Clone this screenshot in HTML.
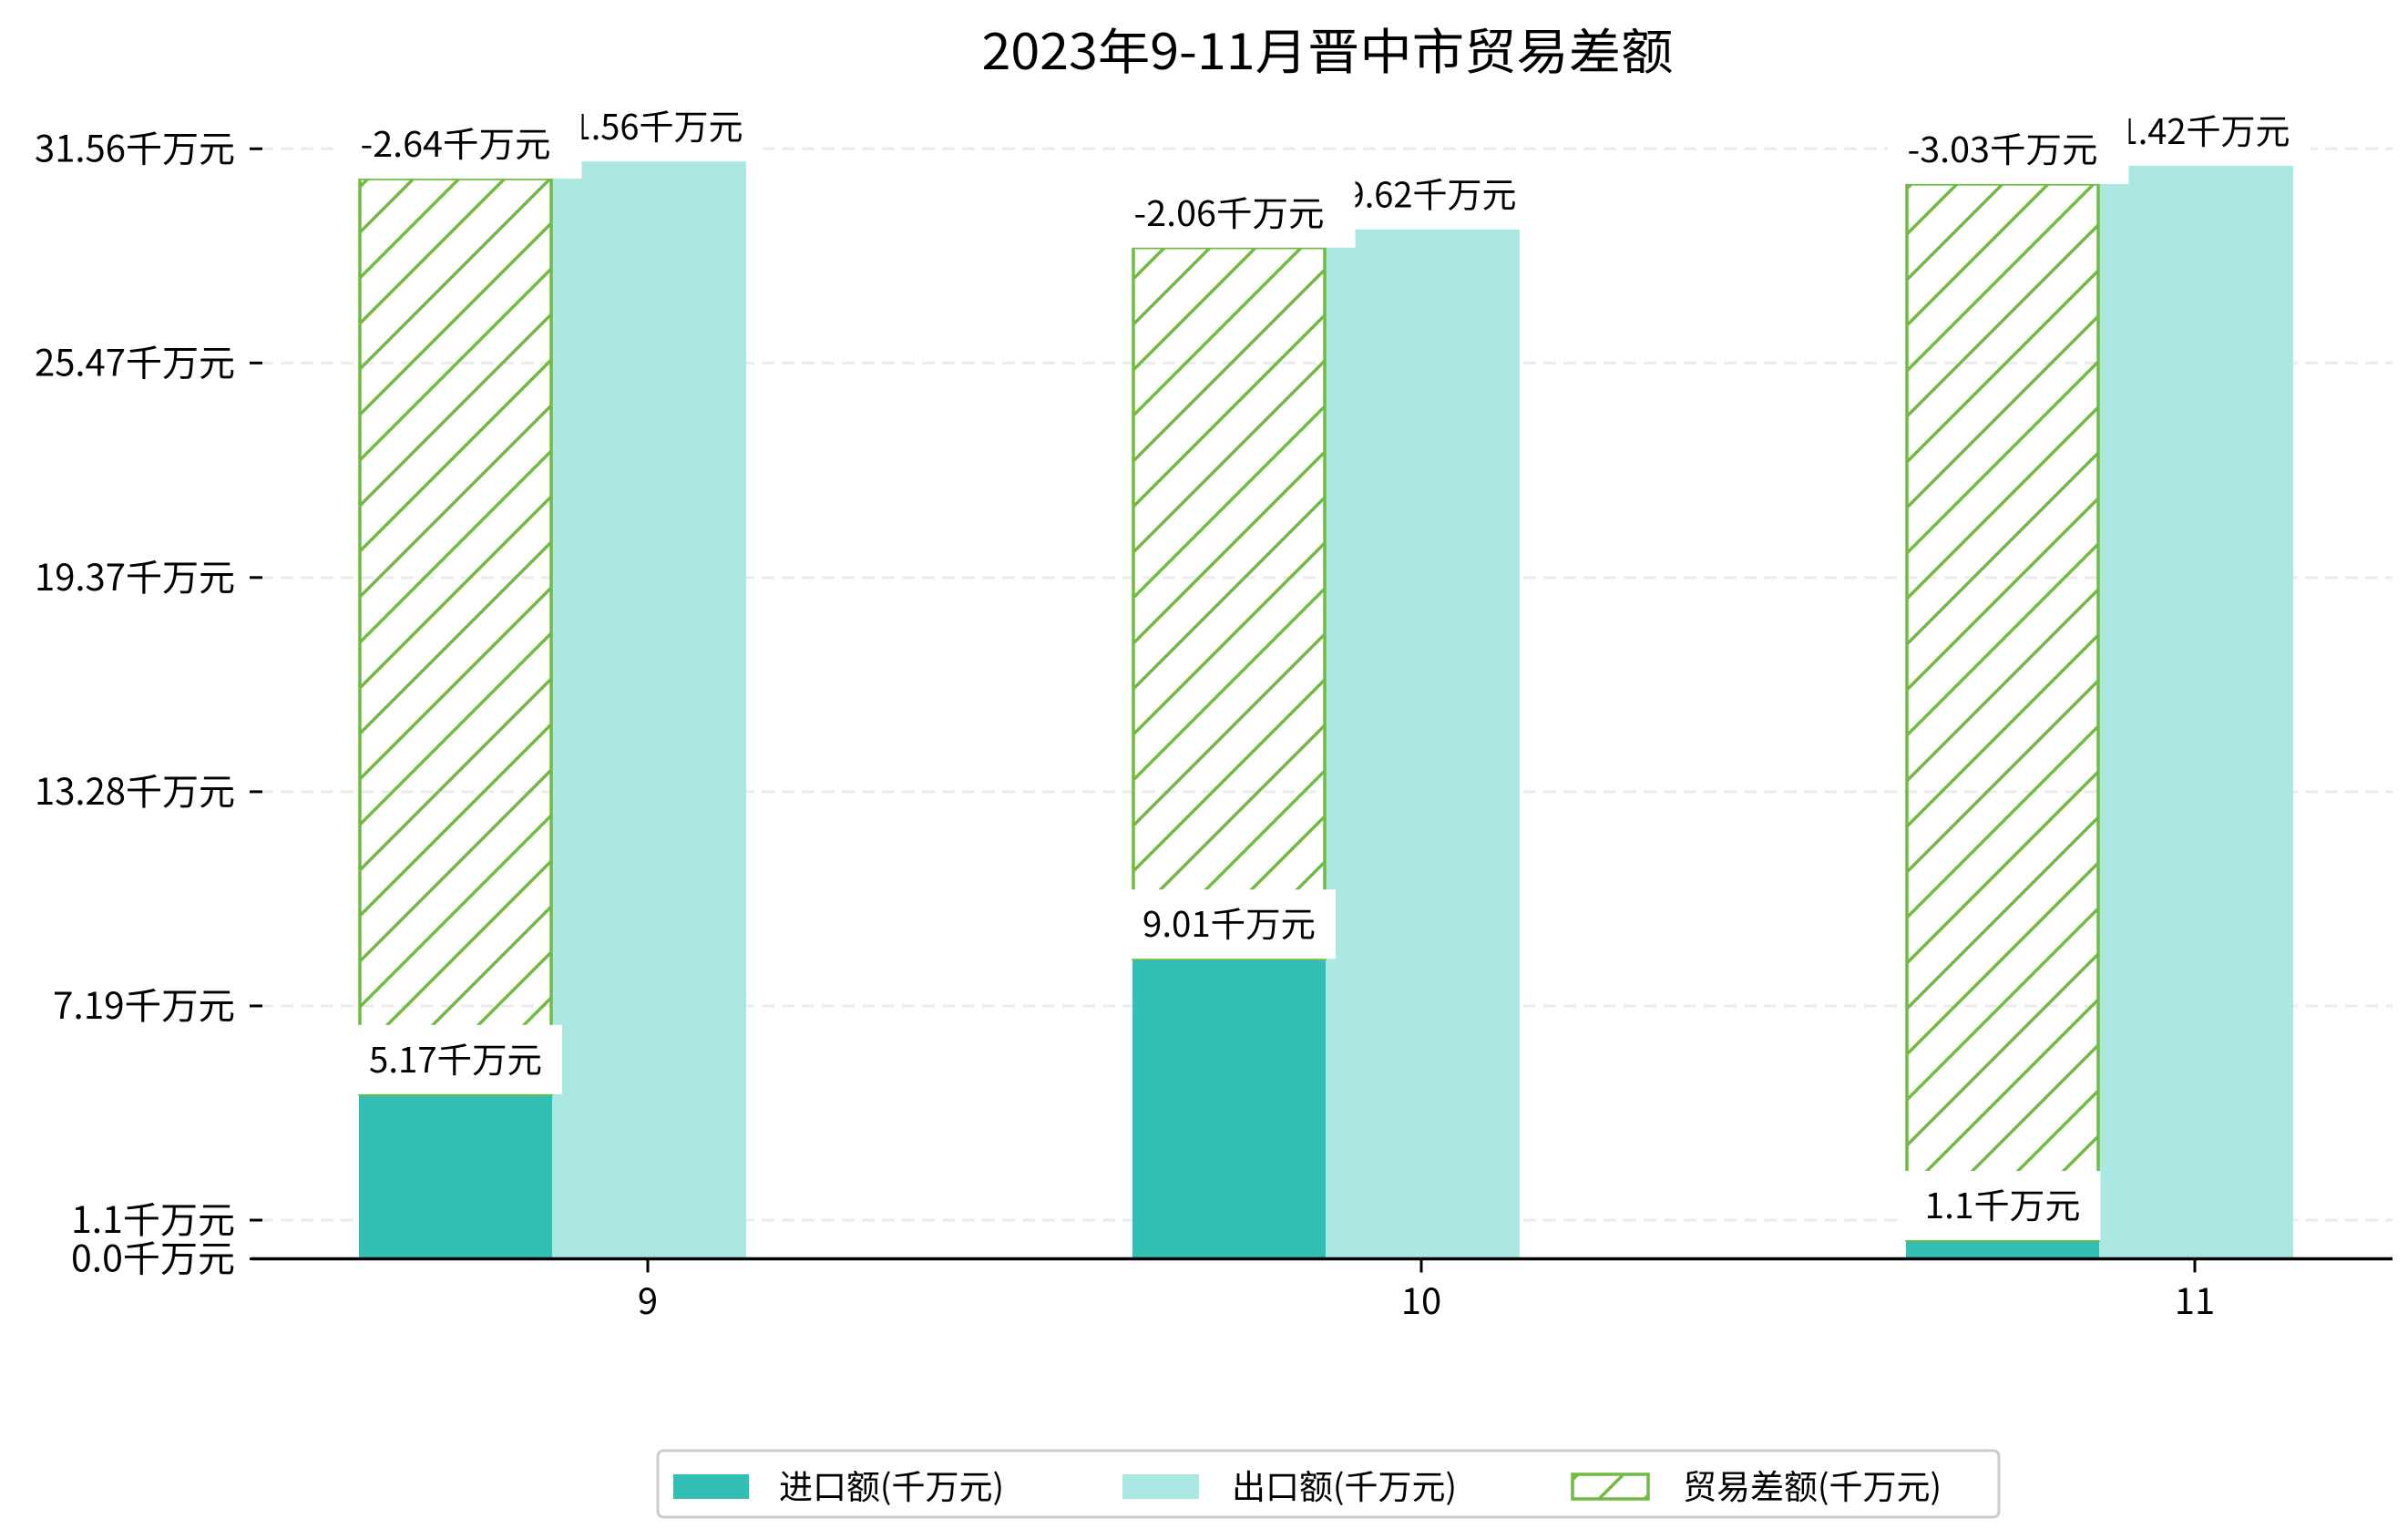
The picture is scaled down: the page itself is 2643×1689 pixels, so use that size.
<!DOCTYPE html>
<html><head><meta charset="utf-8"><style>
html,body{margin:0;padding:0;background:#fff;}
svg{display:block;font-family:"Liberation Sans","Noto Sans CJK SC",sans-serif;}
</style></head><body>
<svg id="chart" width="2643" height="1689" viewBox="0 0 2643 1689" xmlns="http://www.w3.org/2000/svg">
<defs>
<pattern id="hatch" patternUnits="userSpaceOnUse" width="50" height="50">
<path d="M0,50 L50,0 M-10,10 L10,-10 M40,60 L60,40" stroke="#72bb43" stroke-width="3.5" fill="none"/>
</pattern>
</defs>
<text x="1457" y="76" text-anchor="middle" font-size="54" font-family="Noto Sans CJK SC, sans-serif" textLength="759" lengthAdjust="spacingAndGlyphs">2023年9-11月晋中市贸易差额</text>
<g id="grid"></g>
<g id="bars"></g>
<g id="labels"></g>
<g id="axes"></g>
<g>
<rect x="722" y="1592" width="1472" height="73" rx="6" fill="#fff" stroke="#cccccc" stroke-width="3"/>
<rect x="739" y="1618" width="83" height="27" fill="#31c0b3"/>
<text x="855" y="1645" font-size="37" font-family="Noto Sans CJK SC, sans-serif">进口额(千万元)</text>
<rect x="1232" y="1618" width="84" height="27" fill="#abe8e2"/>
<text x="1352" y="1645" font-size="37" font-family="Noto Sans CJK SC, sans-serif">出口额(千万元)</text>
<rect x="1726" y="1618" width="83" height="27" fill="url(#hatch)" stroke="#72bb43" stroke-width="3.5"/>
<text x="1847" y="1645" font-size="37" font-family="Noto Sans CJK SC, sans-serif">贸易差额(千万元)</text>
</g>
</svg>
<script>
const categories = ["9", "10", "11"];
const importValues = [4.68, 8.53, 0.53];
const exportValues = [31.2, 29.27, 31.08];
const balanceTops = [30.71, 28.75, 30.56];
const importLabels = ["5.17千万元", "9.01千万元", "1.1千万元"];
const exportLabels = ["31.56千万元", "29.62千万元", "31.42千万元"];
const balanceLabels = ["-2.64千万元", "-2.06千万元", "-3.03千万元"];
const yTickValues = [0, 1.1, 7.19, 13.28, 19.37, 25.47, 31.56];
const yTickLabels = ["0.0千万元", "1.1千万元", "7.19千万元", "13.28千万元", "19.37千万元", "25.47千万元", "31.56千万元"];

const NS = "http://www.w3.org/2000/svg";
const zeroY = 1381.5, unit = 38.6;
function yScale(v){ return zeroY - v*unit; }
const firstCenter = 715, spacing = 849;
function xCenter(i){ return firstCenter + i*spacing; }
function mk(tag, attrs, parent){
  const e = document.createElementNS(NS, tag);
  for (const k in attrs) e.setAttribute(k, attrs[k]);
  parent.appendChild(e); return e;
}
function textLen(s, size){
  let w = 0; for (const ch of s) w += ch.charCodeAt(0) < 256 ? 0.5 : 1;
  return w*size;
}
const grid = document.getElementById('grid');
const bars = document.getElementById('bars');
const labels = document.getElementById('labels');
const axes = document.getElementById('axes');

yTickValues.forEach((v, i) => {
  const y = yScale(v);
  if (v > 0) {
    const g = mk('line', {x1:286, x2:2626, y1:y, y2:y, stroke:'#ececec', 'stroke-width':3, 'stroke-dasharray':'14,8'}, grid);
    
    
  }
  const t = mk('line', {x1:274, x2:288, y1:y, y2:y, stroke:'#000', 'stroke-width':3}, axes);
  
  
  const lab = yTickLabels[i];
  const tx = mk('text', {x:258, y:y+14, 'text-anchor':'end', 'font-size':40, 'font-family':'Noto Sans CJK SC, sans-serif', textLength:textLen(lab,40), lengthAdjust:'spacingAndGlyphs'}, axes);
  tx.textContent = lab;
  
  
});

const bw = 212;
function addLabel(cx, bottomY, s, name, padR){
  const size = 38, w = textLen(s, size);
  const box = mk('rect', {x:cx-w/2-22, y:bottomY-76, width:w+22+padR, height:76, fill:'#fff'}, labels);
  
  
  const t = mk('text', {x:cx, y:bottomY-24, 'text-anchor':'middle', 'font-size':size, 'font-family':'Noto Sans CJK SC, sans-serif', textLength:w, lengthAdjust:'spacingAndGlyphs'}, labels);
  t.textContent = s;
  
  
}
categories.forEach((c, i) => {
  const cx = xCenter(i);
  const ix = cx - 321, ex = cx - 109;
  const ib = mk('rect', {x:ix, y:yScale(importValues[i]), width:bw, height:zeroY - yScale(importValues[i]), fill:'#31c0b3'}, bars);
  
  
  const eb = mk('rect', {x:ex, y:yScale(exportValues[i]), width:bw+1, height:zeroY - yScale(exportValues[i]), fill:'#abe8e2'}, bars);
  
  
  const top = yScale(balanceTops[i]), bot = yScale(importValues[i]);
  const hb = mk('rect', {x:ix+1, y:top, width:bw-2, height:bot-top, fill:'url(#hatch)', stroke:'#72bb43', 'stroke-width':3.5}, bars);
  
  
  const xt = mk('line', {x1:cx-4, x2:cx-4, y1:zeroY, y2:zeroY+15, stroke:'#000', 'stroke-width':3}, axes);
  
  
  const xl = mk('text', {x:cx-4, y:1442, 'text-anchor':'middle', 'font-size':40, 'font-family':'Noto Sans CJK SC, sans-serif'}, axes);
  xl.textContent = c;
  
  
});
categories.forEach((c, i) => {
  const cx = xCenter(i);
  addLabel(cx - 215, yScale(importValues[i]), importLabels[i], 'import-value-label', 22);
});
categories.forEach((c, i) => {
  const cx = xCenter(i);
  addLabel(cx - 4, yScale(exportValues[i]), exportLabels[i], 'export-value-label', 22);
  addLabel(cx - 215, yScale(balanceTops[i]), balanceLabels[i], 'balance-value-label', 34);
});
const ax = mk('line', {x1:276, x2:2626, y1:zeroY, y2:zeroY, stroke:'#000', 'stroke-width':3.5}, axes);


</script>
</body></html>
